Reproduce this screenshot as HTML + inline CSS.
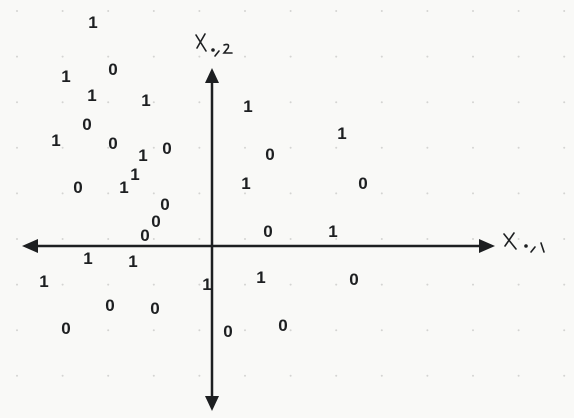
<!DOCTYPE html>
<html><head><meta charset="utf-8"><style>
html,body{margin:0;padding:0;background:#f9f9f7;}
svg{display:block;}
text{font-family:"Liberation Sans",sans-serif;font-weight:bold;font-size:17px;fill:#1d1f21;}
</style></head><body>
<svg id="chart" width="574" height="418" viewBox="0 0 574 418" xmlns="http://www.w3.org/2000/svg">
<g id="grid"></g>
<g>
<line x1="30" y1="246" x2="484" y2="246" stroke="#1d1f21" stroke-width="2.5"/>
<polygon points="22,246 38,239 38,253" fill="#1d1f21"/>
<polygon points="495,246 479,239 479,253" fill="#1d1f21"/>
</g>
<g>
<line x1="212" y1="76" x2="212" y2="402" stroke="#1d1f21" stroke-width="2.5"/>
<polygon points="212,68 205,83 219,83" fill="#1d1f21"/>
<polygon points="212,411 205,396 219,396" fill="#1d1f21"/>
</g>
<g fill="none" stroke="#1d1f21" stroke-width="1.6" stroke-linecap="round">
<path d="M504 234 L516 249 M514 233 L505 246"/><circle cx="526" cy="246" r="1" fill="#1d1f21"/><path d="M531 252 L535 247 M541 243 L544 252"/>
</g>
<g fill="none" stroke="#1d1f21" stroke-width="1.6" stroke-linecap="round">
<path d="M196 35 L206 51 M205 34 L197 48"/><circle cx="213" cy="50" r="1" fill="#1d1f21"/><path d="M215 56 L219 51 M224 45 Q230 43 228 48 L224 53 L232 53"/>
</g>
<g id="points"></g>
</svg>
<script>
// data coordinates: x1 to the right of origin, x2 above origin
const x1Vals = [-119,-146,-99,-120,-66,-125,-156,-99,-69,-45,-77,-88,-134,-47,-56,-67,36,130,58,34,151,56,121,-124,-79,-168,-5,49,142,-102,-57,-146,16,71];
const x2Vals = [224,170,177,151,146,122,106,103,91,98,72,59,59,42,25,11,140,113,92,63,63,15,15,-12,-15,-35,-38,-31,-33,-59,-62,-82,-85,-79];
const labels = [1,1,0,1,1,0,1,0,1,0,1,1,0,0,0,0,1,1,0,1,0,0,1,1,1,1,1,1,0,0,0,0,0,0];
const ox=212, oy=246;
function sx(v){return ox+v;}
function sy(v){return oy-v;}
const NS="http://www.w3.org/2000/svg";
const grid=document.getElementById('grid');
for(let gx=17;gx<574;gx+=45.6){for(let gy=11;gy<418;gy+=45.6){
const c=document.createElementNS(NS,'circle');
c.setAttribute('cx',gx);c.setAttribute('cy',gy);c.setAttribute('r',1);c.setAttribute('fill','#d4d4d2');


grid.appendChild(c);}}
const pts=document.getElementById('points');
for(let i=0;i<labels.length;i++){
const t=document.createElementNS(NS,'text');
t.setAttribute('x',sx(x1Vals[i]));t.setAttribute('y',sy(x2Vals[i])+6);
t.setAttribute('text-anchor','middle');
t.textContent=String(labels[i]);


pts.appendChild(t);}
</script>
</body></html>
